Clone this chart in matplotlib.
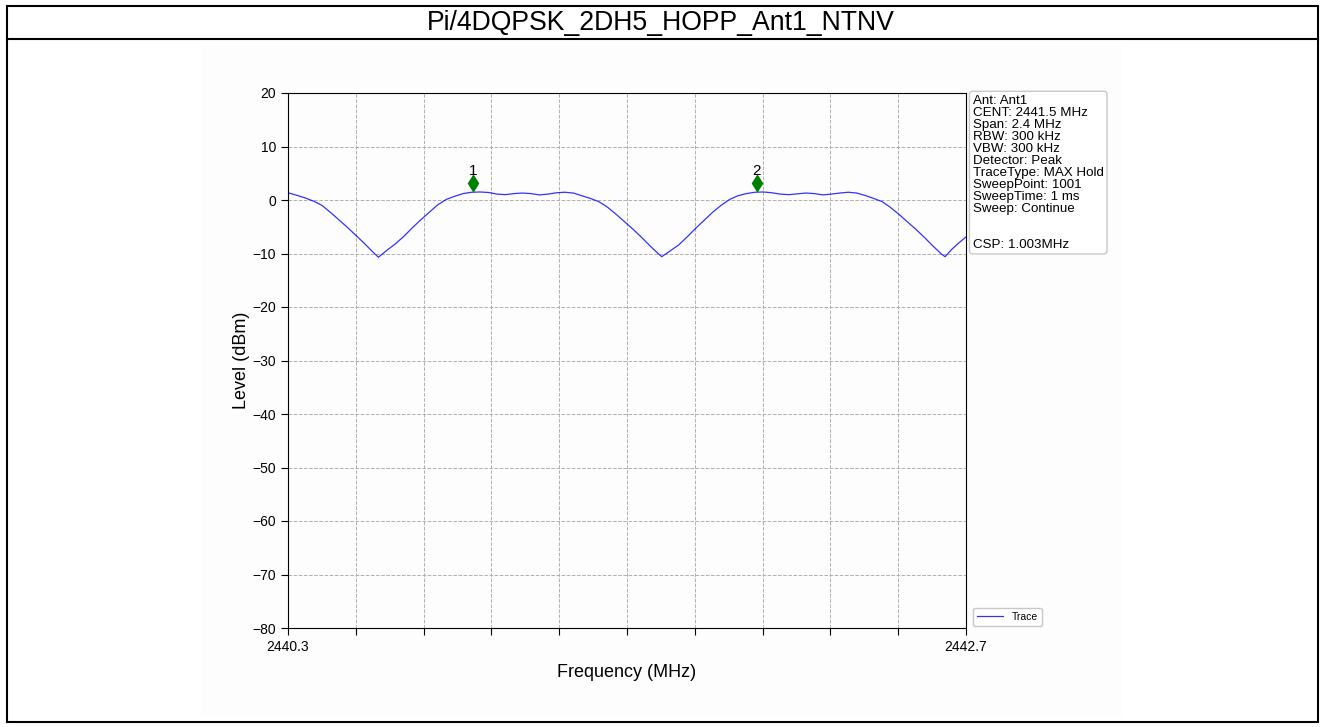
# -*- encoding: utf-8 -*-

import numpy as np
import matplotlib
matplotlib.use("Agg")
from matplotlib import pyplot as plt
from matplotlib import transforms
from matplotlib.patches import Rectangle

plt.rcParams['font.family'] = ['Liberation Sans', 'DejaVu Sans']

############## TRACCIA (MAX HOLD) ################################
freq = [2440.300, 2440.330, 2440.360, 2440.390, 2440.420, 2440.450, 2440.480,
        2440.510, 2440.540, 2440.570, 2440.600, 2440.620,
        2440.650, 2440.680, 2440.710, 2440.740, 2440.770, 2440.800, 2440.830,
        2440.860, 2440.890, 2440.920, 2440.950, 2440.980, 2441.010, 2441.040,
        2441.070, 2441.100, 2441.130, 2441.160, 2441.190, 2441.220, 2441.250,
        2441.280, 2441.310, 2441.340, 2441.370, 2441.400, 2441.430, 2441.460,
        2441.490, 2441.520, 2441.550, 2441.580, 2441.610, 2441.623,
        2441.653, 2441.683, 2441.713, 2441.743, 2441.773, 2441.803, 2441.833,
        2441.863, 2441.893, 2441.923, 2441.953, 2441.983, 2442.013, 2442.043,
        2442.073, 2442.103, 2442.133, 2442.163, 2442.193, 2442.223, 2442.253,
        2442.283, 2442.313, 2442.343, 2442.373, 2442.403, 2442.433, 2442.463,
        2442.493, 2442.523, 2442.553, 2442.583, 2442.613, 2442.626,
        2442.650, 2442.675, 2442.700]
level = [1.35, 0.9, 0.4, -0.2, -1.0, -2.3, -3.7,
         -5.1, -6.6, -8.1, -9.7, -10.7,
         -9.4, -8.2, -6.8, -5.2, -3.7, -2.3, -0.9,
         0.1, 0.7, 1.2, 1.45, 1.5, 1.4, 1.1,
         1.0, 1.2, 1.3, 1.2, 0.95, 1.1, 1.35,
         1.45, 1.3, 0.8, 0.3, -0.3, -1.3, -2.6,
         -4.0, -5.4, -6.9, -8.5, -10.0, -10.6,
         -9.5, -8.4, -6.9, -5.3, -3.8, -2.3, -1.0,
         0.1, 0.8, 1.2, 1.45, 1.5, 1.35, 1.1,
         1.0, 1.15, 1.3, 1.2, 0.95, 1.1, 1.3,
         1.45, 1.3, 0.85, 0.3, -0.3, -1.4, -2.7,
         -4.1, -5.5, -7.0, -8.6, -10.1, -10.6,
         -9.2, -8.0, -6.9]

# marker sui picchi
mk_freq = [2440.955, 2441.960]
mk_level = [1.5, 1.5]
mk_name = ["1", "2"]

info = ("Ant: Ant1\nCENT: 2441.5 MHz\nSpan: 2.4 MHz\nRBW: 300 kHz\n"
        "VBW: 300 kHz\nDetector: Peak\nTraceType: MAX Hold\n"
        "SweepPoint: 1001\nSweepTime: 1 ms\nSweep: Continue\n\n\n"
        "CSP: 1.003MHz")

W, H = 1322, 727
f1 = plt.figure(figsize=(W / 100, H / 100), dpi=100)

# sfondo del grafico, cornice esterna e riga del titolo
f1.patches.append(Rectangle((201 / W, 1 - 716 / H), 921 / W, 670 / H,
                            transform=f1.transFigure, facecolor='#fdfdfd',
                            edgecolor='none', zorder=-5))
f1.patches.append(Rectangle((7 / W, 1 - 722 / H), 1311 / W, 716 / H,
                            transform=f1.transFigure, facecolor='none',
                            edgecolor='black', linewidth=1.5, zorder=-4))
f1.add_artist(plt.Line2D([7 / W, 1318 / W], [1 - 39 / H, 1 - 39 / H],
                         transform=f1.transFigure, color='black', linewidth=1.5))
f1.text(0.5, 1 - 23 / H, "Pi/4DQPSK_2DH5_HOPP_Ant1_NTNV",
        ha='center', va='center', fontsize=19.2)

ax1 = f1.add_axes([288 / W, 1 - 628 / H, 678 / W, 535 / H])
ax1.set_zorder(2)
ax1.patch.set_alpha(0)
line, = ax1.plot(freq, level, color='blue', linewidth=0.9, alpha=0.8,
                 label='Trace')

# diamanti verdi un po' sopra il picco
up = transforms.offset_copy(ax1.transData, fig=f1, x=0, y=9, units='dots')
ax1.plot(mk_freq, mk_level, 'd', color='green', markersize=8.5,
         transform=up, linestyle='none')
for x, y, n in zip(mk_freq, mk_level, mk_name):
    ax1.annotate(n, (x, y), xytext=(0, 14), textcoords='offset pixels',
                 ha='center', va='bottom', fontsize=11)

ax1.set_xlim((2440.3, 2442.7))
ax1.set_ylim((-80, 20))
xt = np.linspace(2440.3, 2442.7, 11)
ax1.set_xticks(xt)
ax1.set_xticklabels(["2440.3"] + [""] * 9 + ["2442.7"])
ax1.set_yticks(np.arange(-80, 21, 10))
ax1.tick_params(labelsize=10, length=5)
ax1.grid(True, linestyle='--', color='#b0b0b0', linewidth=0.7)

ax1.set_xlabel(u'Frequency (MHz)', fontsize=13, labelpad=7)
ax1.set_ylabel(u'Level (dBm)', fontsize=13, labelpad=2)

ax1.text(1.01, 0.997, info, transform=ax1.transAxes, ha='left', va='top',
         fontsize=9.6, linespacing=1.0,
         bbox=dict(boxstyle='round,pad=0.25', facecolor='white',
                   edgecolor='#c8c8c8'))

ax1.legend(loc='lower left', bbox_to_anchor=(1.003, -0.006), fontsize=7.5,
           handlelength=2.5, framealpha=1, edgecolor='#c8c8c8')

f1.savefig("out.png", dpi=100)
